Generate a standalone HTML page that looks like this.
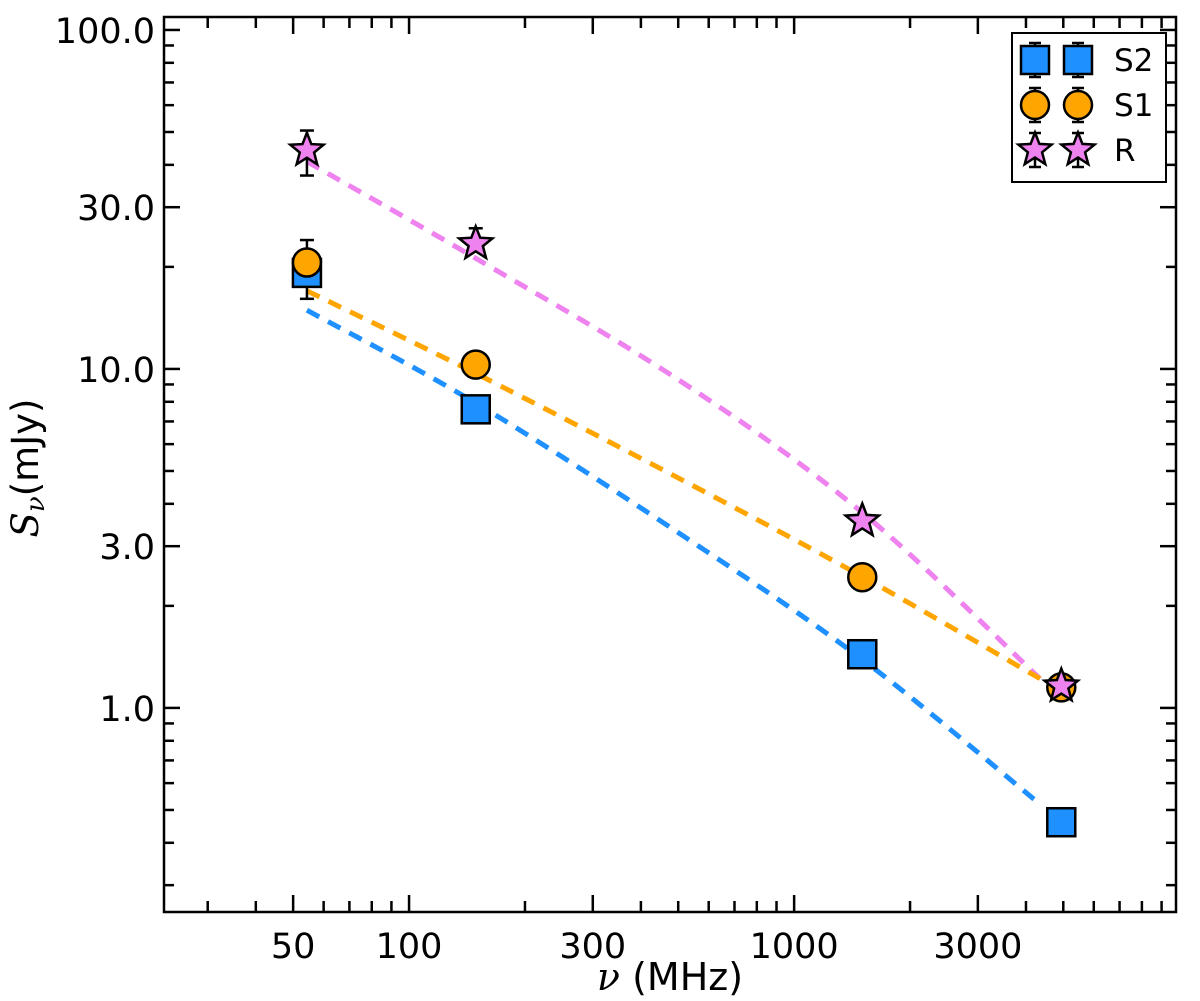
<!DOCTYPE html>
<html><head><meta charset="utf-8"><style>
html,body{margin:0;padding:0;background:#fff;}
svg{display:block;font-family:"DejaVu Sans","Liberation Sans",sans-serif;}
</style></head><body>
<svg id="chart" width="1200" height="1001" viewBox="0 0 1200 1001" xmlns="http://www.w3.org/2000/svg">
<rect x="0" y="0" width="1200" height="1001" fill="#fff"/>
<g id="fits"></g>
<g id="errs"></g>
<g id="marks"></g>
<g id="axes"></g>
<g id="legend"></g>
</svg>
<script>
const freqs = [54.3, 149, 1503, 4940];
const s2Vals = [19.2, 7.6, 1.44, 0.46];
const s1Vals = [20.6, 10.3, 2.43, 1.15];
const rVals = [44.2, 23.4, 3.56, 1.16];
const s1ErrLo = [18.0, 9.6, 2.35, 1.11];
const s1ErrHi = [24.0, 11.0, 2.5, 1.19];
const s2ErrLo = [16.1, 7.2, 1.40, 0.445];
const s2ErrHi = [20.0, 7.9, 1.48, 0.475];
const rErrLo = [37.2, 22.5, 3.45, 1.12];
const rErrHi = [50.5, 26.0, 3.65, 1.2];
const fitFreqs = [54.3, 149, 500, 1503, 4350];
const rFit = [40.9, 21.2, 9.3, 3.77, 1.22];
const s1Fit = [17.0, 9.7, 4.77, 2.44, 1.22];
const s2Fit = [14.9, 7.93, 3.29, 1.39, 0.52];
const xTickVals = [50, 100, 300, 1000, 3000];
const xTickLabels = ["50", "100", "300", "1000", "3000"];
const yTickVals = [1, 3, 10, 30, 100];
const yTickLabels = ["1.0", "3.0", "10.0", "30.0", "100.0"];

const L=164,R=1176,T=17,B=912;
const xMin=23.1,xMax=9810,yMin=0.25,yMax=109.2;
const lg=Math.log10;
function xs(v){return L+(lg(v)-lg(xMin))/(lg(xMax)-lg(xMin))*(R-L);}
function ys(v){return B-(lg(v)-lg(yMin))/(lg(yMax)-lg(yMin))*(B-T);}
const NS="http://www.w3.org/2000/svg";
function mk(tag,attrs,parent){const e=document.createElementNS(NS,tag);for(const k in attrs)e.setAttribute(k,attrs[k]);parent.appendChild(e);return e;}
const gF=document.getElementById('fits'),gE=document.getElementById('errs'),gM=document.getElementById('marks'),gA=document.getElementById('axes'),gL=document.getElementById('legend');

function smoothPath(pts){
  let d="M"+pts[0][0]+","+pts[0][1];
  for(let i=0;i<pts.length-1;i++){
    const p0=pts[Math.max(i-1,0)],p1=pts[i],p2=pts[i+1],p3=pts[Math.min(i+2,pts.length-1)];
    const c1=[p1[0]+(p2[0]-p0[0])/6,p1[1]+(p2[1]-p0[1])/6];
    const c2=[p2[0]-(p3[0]-p1[0])/6,p2[1]-(p3[1]-p1[1])/6];
    d+=" C"+c1[0]+","+c1[1]+" "+c2[0]+","+c2[1]+" "+p2[0]+","+p2[1];
  }
  return d;
}
const fits=[[rFit,'#ee82ee','fit-line-r'],[s1Fit,'#ffa500','fit-line-s1'],[s2Fit,'#1e90ff','fit-line-s2']];
fits.forEach(f=>{
  const pts=fitFreqs.map((fr,i)=>[xs(fr),ys(f[0][i])]);
  const p=mk('path',{d:smoothPath(pts),fill:'none',stroke:f[1],'stroke-width':5,'stroke-dasharray':'14,10'},gF);
  
  
});

function errbar(x,lo,hi,name){
  const g=mk('g',{stroke:'#000','stroke-width':2.5},gE);
  
  
  mk('line',{x1:x,x2:x,y1:ys(lo),y2:ys(hi)},g);
  mk('line',{x1:x-7,x2:x+7,y1:ys(lo),y2:ys(lo)},g);
  mk('line',{x1:x-7,x2:x+7,y1:ys(hi),y2:ys(hi)},g);
}
function square(cx,cy,parent){return mk('rect',{x:cx-14,y:cy-14,width:28,height:28,fill:'#1e90ff',stroke:'#000','stroke-width':2.5},parent);}
function circle(cx,cy,parent){return mk('circle',{cx:cx,cy:cy,r:14,fill:'#ffa500',stroke:'#000','stroke-width':2.5},parent);}
function star(cx,cy,parent){
  let pts=[];for(let i=0;i<10;i++){const r=i%2?7.5:17.5;const a=-Math.PI/2+i*Math.PI/5;pts.push((cx+r*Math.cos(a)).toFixed(1)+","+(cy+r*Math.sin(a)).toFixed(1));}
  return mk('polygon',{points:pts.join(' '),fill:'#ee82ee',stroke:'#000','stroke-width':2.5,'stroke-linejoin':'miter'},parent);
}
freqs.forEach((f,i)=>{
  const x=xs(f);
  errbar(x,s2ErrLo[i],s2ErrHi[i],'error-bar-s2');
  errbar(x,s1ErrLo[i],s1ErrHi[i],'error-bar-s1');
  errbar(x,rErrLo[i],rErrHi[i],'error-bar-r');
});
freqs.forEach((f,i)=>{const e=square(xs(f),ys(s2Vals[i]),gM);
  
  });
freqs.forEach((f,i)=>{const e=circle(xs(f),ys(s1Vals[i]),gM);
  
  });
freqs.forEach((f,i)=>{const e=star(xs(f),ys(rVals[i]),gM);
  
  });

const fr=mk('rect',{x:L,y:T,width:R-L,height:B-T,fill:'none',stroke:'#000','stroke-width':2.5},gA);


function tick(x1,y1,x2,y2){mk('line',{x1:x1,y1:y1,x2:x2,y2:y2,stroke:'#000','stroke-width':2.5},gA);}
for(let d=10;d<=1000;d*=10){for(let m=1;m<=9;m++){const v=d*m;if(v<xMin||v>xMax)continue;
  const major=xTickVals.includes(v);const len=major?17:11;const x=xs(v);
  tick(x,B,x,B-len);tick(x,T,x,T+len);}}
xTickVals.forEach((v,i)=>{const t=mk('text',{x:xs(v),y:B+46,'font-size':35,'text-anchor':'middle',fill:'#000'},gA);t.textContent=xTickLabels[i];
  
  });
for(let d=0.1;d<=100;d*=10){for(let m=1;m<=9;m++){const v=+(d*m).toPrecision(3);if(v<yMin||v>yMax)continue;
  const major=yTickVals.includes(v);const len=major?16:10;const y=ys(v);
  tick(L,y,L+len,y);tick(R,y,R-len,y);}}
yTickVals.forEach((v,i)=>{const t=mk('text',{x:155,y:ys(v)+13,'font-size':35,'text-anchor':'end',fill:'#000'},gA);t.textContent=yTickLabels[i];
  
  });
const xt=mk('text',{x:670,y:990,'font-size':38,'text-anchor':'middle',fill:'#000'},gA);
xt.innerHTML='<tspan font-family="DejaVu Serif" font-style="italic">ν</tspan> (MHz)';


const yt=mk('text',{x:0,y:0,'font-size':37,'text-anchor':'middle',fill:'#000',transform:'translate(38,468) rotate(-90)'},gA);
yt.innerHTML='<tspan font-family="DejaVu Serif" font-style="italic">S</tspan><tspan font-family="DejaVu Serif" font-style="italic" font-size="26" dy="6">ν</tspan><tspan dy="-6">(mJy)</tspan>';



const lb=mk('rect',{x:1012,y:33,width:154,height:149,fill:'#fff',stroke:'#000','stroke-width':2},gL);


const legRows=[['S2',square,60],['S1',circle,105],['R',star,150]];
legRows.forEach(r=>{
  const g=mk('g',{},gL);
  
  
  [1035,1078].forEach(x=>{
    mk('line',{x1:x,x2:x,y1:r[2]-17,y2:r[2]+17,stroke:'#000','stroke-width':2.5},g);
    mk('line',{x1:x-6,x2:x+6,y1:r[2]-17,y2:r[2]-17,stroke:'#000','stroke-width':2.5},g);
    mk('line',{x1:x-6,x2:x+6,y1:r[2]+17,y2:r[2]+17,stroke:'#000','stroke-width':2.5},g);
    r[1](x,r[2],g);
  });
  const t=mk('text',{x:1114,y:r[2]+11,'font-size':31,fill:'#000'},g);t.textContent=r[0];
});
</script>
</body></html>
